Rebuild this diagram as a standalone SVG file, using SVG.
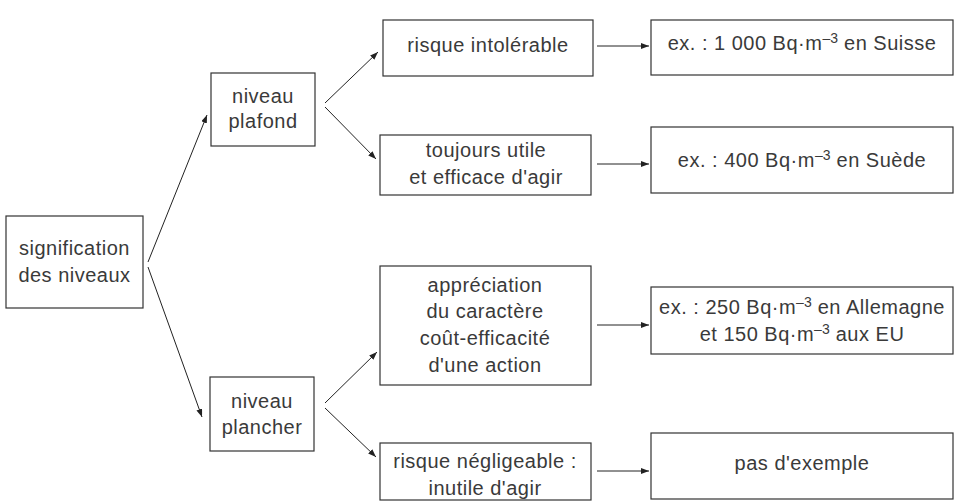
<svg xmlns="http://www.w3.org/2000/svg" width="958" height="502" viewBox="0 0 958 502">
<style>
rect{fill:#fff;stroke:#333;stroke-width:1.2}
text{font-family:"Liberation Sans",Arial,sans-serif;font-size:20px;letter-spacing:0.5px;fill:#3a3a3a;text-anchor:middle}
.sup{font-size:14px;letter-spacing:0}
#connectors line{stroke:#222;stroke-width:1;marker-end:url(#ah)}
</style>
<defs>
<marker id="ah" viewBox="0 0 8 6" refX="8" refY="3" markerWidth="8" markerHeight="6" markerUnits="userSpaceOnUse" orient="auto">
<path d="M0,0 L8,3 L0,6 z" fill="#222"/>
</marker>
</defs>
<rect width="958" height="502" style="fill:#fff;stroke:none"/>
<g id="connectors">
<line x1="148" y1="262" x2="207" y2="115"/>
<line x1="148" y1="267" x2="202" y2="417"/>
<line x1="325" y1="103" x2="378" y2="52"/>
<line x1="325" y1="107" x2="376" y2="159"/>
<line x1="325" y1="403" x2="377" y2="352"/>
<line x1="325" y1="408" x2="376" y2="457"/>
<line x1="597" y1="46" x2="649" y2="46"/>
<line x1="597" y1="164" x2="649" y2="164"/>
<line x1="597" y1="325" x2="649" y2="325"/>
<line x1="597" y1="471" x2="649" y2="471"/>
</g>
<g id="n-signification">
<rect x="6" y="216" width="137" height="92"/>
<text x="74.5" y="255">signification</text>
<text x="74.5" y="282">des niveaux</text>
</g>
<g id="n-plafond">
<rect x="211" y="73" width="104" height="73"/>
<text x="263" y="103">niveau</text>
<text x="263" y="128">plafond</text>
</g>
<g id="n-plancher">
<rect x="210" y="377" width="104" height="74"/>
<text x="262" y="408">niveau</text>
<text x="262" y="434">plancher</text>
</g>
<g id="n-intolerable">
<rect x="383" y="20" width="210" height="56"/>
<text x="488" y="52">risque intolérable</text>
</g>
<g id="n-toujours">
<rect x="380" y="135" width="211" height="60"/>
<text x="486" y="157">toujours utile</text>
<text x="486" y="184">et efficace d'agir</text>
</g>
<g id="n-appreciation">
<rect x="380" y="266" width="211" height="119"/>
<text x="485" y="292">appréciation</text>
<text x="485" y="318">du caractère</text>
<text x="485" y="345">coût-efficacité</text>
<text x="485" y="372">d'une action</text>
</g>
<g id="n-negligeable">
<rect x="380" y="443" width="211" height="57"/>
<text x="485" y="468">risque négligeable :</text>
<text x="485" y="495">inutile d'agir</text>
</g>
<g id="n-ex1000">
<rect x="651" y="20" width="302" height="55"/>
<text x="802" y="50">ex. : 1 000 Bq·m<tspan class="sup" dy="-7">–3</tspan><tspan dy="7"> en Suisse</tspan></text>
</g>
<g id="n-ex400">
<rect x="651" y="127" width="302" height="66"/>
<text x="802" y="167">ex. : 400 Bq·m<tspan class="sup" dy="-7">–3</tspan><tspan dy="7"> en Suède</tspan></text>
</g>
<g id="n-ex250">
<rect x="651" y="287" width="302" height="67"/>
<text x="802" y="314">ex. : 250 Bq·m<tspan class="sup" dy="-7">–3</tspan><tspan dy="7"> en Allemagne</tspan></text>
<text x="802" y="341">et 150 Bq·m<tspan class="sup" dy="-7">–3</tspan><tspan dy="7"> aux EU</tspan></text>
</g>
<g id="n-pas">
<rect x="651" y="433" width="302" height="66"/>
<text x="802" y="470">pas d'exemple</text>
</g>
</svg>
